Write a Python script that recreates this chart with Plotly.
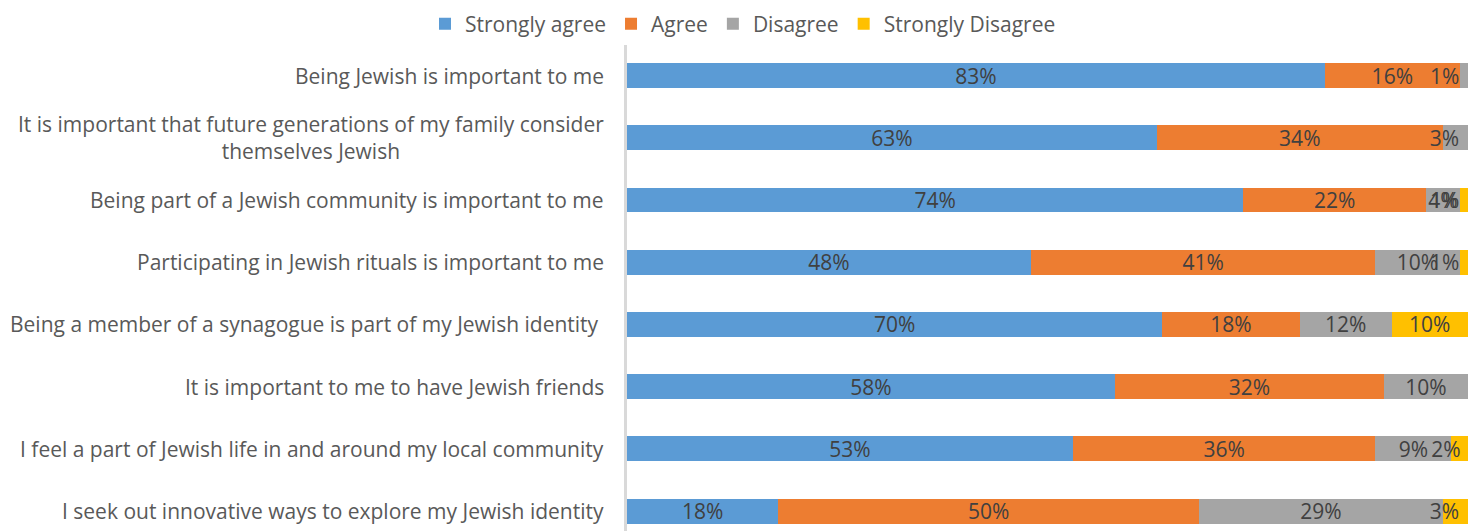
import plotly.graph_objects as go

categories = [
    "Being Jewish is important to me",
    "It is important that future generations of my family consider<br>themselves Jewish",
    "Being part of a Jewish community is important to me",
    "Participating in Jewish rituals is important to me",
    "Being a member of a synagogue is part of my Jewish identity ",
    "It is important to me to have Jewish friends",
    "I feel a part of Jewish life in and around my local community",
    "I seek out innovative ways to explore my Jewish identity",
]
strongly_agree = [83, 63, 74, 48, 70, 58, 53, 18]
agree = [16, 34, 22, 41, 18, 32, 36, 50]
disagree = [1, 3, 4, 10, 12, 10, 9, 29]
strongly_disagree = [0, 0, 1, 1, 10, 0, 2, 3]

series = [
    ("Strongly agree", strongly_agree, "#5B9BD5"),
    ("Agree", agree, "#ED7D31"),
    ("Disagree", disagree, "#A5A5A5"),
    ("Strongly Disagree", strongly_disagree, "#FFC000"),
]

FONT = "Open Sans"
LABEL_COLOR = "#595959"
DATA_COLOR = "#404040"
FS = 21

# page body has an 8px margin; compensate so the plot sits where the reference does
OFF = 8
W, H = 1479 - OFF, 531 - OFF
PLOT_W = 841  # px width of the plot area

# Excel keeps data labels of the last, narrow segment inside the plot area:
# emulate by padding those labels with non-breaking spaces on the right
n = len(categories)
all_vals = [s[1] for s in series]
row_tot = [sum(v[i] for v in all_vals) for i in range(n)]
last_idx = []
for i in range(n):
    li = max(k for k in range(len(series)) if all_vals[k][i] > 0)
    last_idx.append(li)

def label(k, i, v):
    if v <= 0:
        return ""
    t = f"{v}%"
    if k == last_idx[i]:
        share = v / row_tot[i]
        shift = max(0.0, 22.5 - share * PLOT_W / 2)
        nsp = int(round(2 * shift / (0.26 * FS)))
        t = t + "\u00a0" * nsp
    return t

fig = go.Figure()
ypos = list(range(n))
for k, (name, vals, color) in enumerate(series):
    fig.add_trace(go.Bar(
        name=name,
        y=ypos,
        x=vals,
        orientation="h",
        marker=dict(color=color, line=dict(width=0)),
        width=0.4,
        text=[label(k, i, v) for i, v in enumerate(vals)],
        textposition="inside",
        insidetextanchor="middle",
        textangle=0,
        constraintext="none",
        textfont=dict(family=FONT, size=FS, color=DATA_COLOR),
        cliponaxis=False,
        hoverinfo="skip",
    ))

for i, c in enumerate(categories):
    fig.add_annotation(
        x=0, xref="paper", y=i, yref="y",
        text=c, showarrow=False, xanchor="right", align="center",
        xshift=-21, font=dict(family=FONT, size=FS, color=LABEL_COLOR),
    )

fig.update_layout(
    barmode="stack",
    barnorm="percent",
    width=W, height=H,
    margin=dict(l=627 - OFF, r=W - (1468 - OFF), t=43 - OFF, b=0),
    paper_bgcolor="white",
    plot_bgcolor="white",
    showlegend=True,
    legend=dict(
        orientation="h", xref="container", yref="container",
        x=(425 - OFF) / W, y=1 - (24 - OFF) / H, xanchor="left", yanchor="middle",
        font=dict(family=FONT, size=FS, color=LABEL_COLOR),
        traceorder="normal", itemclick=False,
    ),
    xaxis=dict(range=[0, 100], visible=False, fixedrange=True),
    yaxis=dict(
        range=[7.32, -0.5], showticklabels=False, showgrid=False,
        zeroline=False, showline=True, linecolor="#D9D9D9", linewidth=3,
        ticks="",
    ),
)

fig.write_html("out.html")
